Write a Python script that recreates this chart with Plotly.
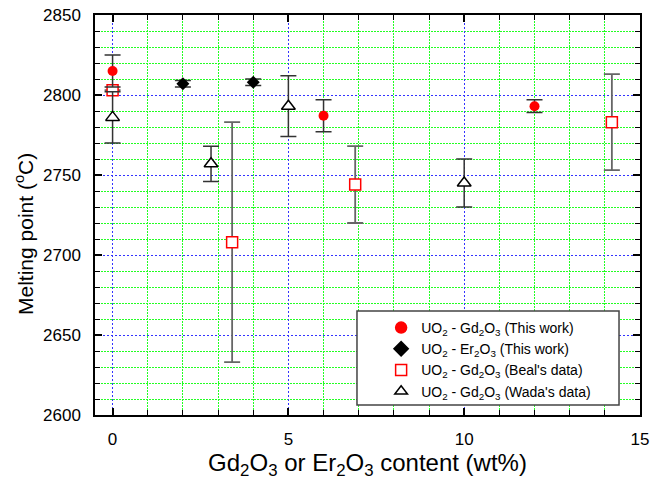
import plotly.graph_objects as go

# --- data ---
gd_this_x = [0, 6, 12]
gd_this_y = [2815, 2787, 2793]
gd_this_err = [10, 10, 4]

er_this_x = [2, 4]
er_this_y = [2807, 2808]
er_this_err = [2, 2]

beal_x = [0, 3.4, 6.9, 14.2]
beal_y = [2803, 2708, 2744, 2783]
beal_err = [0, 75, 24, 30]

wada_x = [0, 2.8, 5, 10]
wada_y = [2786, 2757, 2793, 2745]
wada_err = [16, 11, 19, 15]

FONT = "Arial, Liberation Sans, sans-serif"
ERRC = "#333333"
GREEN = "#22ff22"
BLUE = "#3333ff"
DOT_MINOR = "2px,1px"
DOT_MAJOR = "2px,2px"

fig = go.Figure()

fig.add_trace(go.Scatter(
    x=beal_x, y=beal_y, mode="markers",
    marker=dict(symbol="square", size=11, color="white", line=dict(color="red", width=1.5)),
    error_y=dict(type="data", array=beal_err, color="#666666", thickness=1.8, width=8),
    showlegend=False,
))
fig.add_trace(go.Scatter(
    x=wada_x, y=wada_y, mode="markers",
    marker=dict(symbol="triangle-up", size=12, color="white", line=dict(color="black", width=1.5)),
    error_y=dict(type="data", array=wada_err, color=ERRC, thickness=1.5, width=8),
    showlegend=False,
))
fig.add_trace(go.Scatter(
    x=gd_this_x, y=gd_this_y, mode="markers",
    marker=dict(symbol="circle", size=10, color="red", line=dict(width=0)),
    error_y=dict(type="data", array=gd_this_err, color=ERRC, thickness=1.5, width=8),
    showlegend=False,
))
fig.add_trace(go.Scatter(
    x=er_this_x, y=er_this_y, mode="markers",
    marker=dict(symbol="diamond", size=10, color="black", line=dict(width=0)),
    error_y=dict(type="data", array=er_this_err, color=ERRC, thickness=1.5, width=8),
    showlegend=False,
))

legend_names = [
    "UO<sub>2</sub> - Gd<sub>2</sub>O<sub>3</sub> (This work)",
    "UO<sub>2</sub> - Er<sub>2</sub>O<sub>3</sub> (This work)",
    "UO<sub>2</sub> - Gd<sub>2</sub>O<sub>3</sub> (Beal's data)",
    "UO<sub>2</sub> - Gd<sub>2</sub>O<sub>3</sub> (Wada's data)",
]
legend_styles = [
    ("circle", "red", "red", 11),
    ("diamond", "black", "black", 11),
    ("square-open", "red", "red", 11),
    ("triangle-up-open", "black", "black", 11),
]
for nm, (sym, col, lc, sz) in zip(legend_names, legend_styles):
    fig.add_trace(go.Scatter(
        x=[None], y=[None], mode="markers", name=nm,
        marker=dict(symbol=sym, size=sz, color=col, line=dict(color=lc, width=1.5)),
    ))

fig.update_layout(
    width=650, height=487,
    margin=dict(l=95, r=10, t=15, b=72),
    paper_bgcolor="white", plot_bgcolor="white",
    font=dict(family=FONT, size=17, color="black"),
    legend=dict(
        x=0.525, y=0.2575, xanchor="left", yanchor="top",
        bgcolor="rgba(0,0,0,0)", borderwidth=0,
        font=dict(family=FONT, size=14), tracegroupgap=0,
    ),
    shapes=[dict(type="rect", xref="paper", yref="paper",
                 x0=0.4807, x1=0.9615, y0=0.025, y1=0.26,
                 fillcolor="white", line=dict(color="#444444", width=1.5),
                 layer="above")],
    annotations=[dict(text="Melting point (<sup>o</sup>C)", textangle=-90,
                      xref="paper", yref="paper", x=-0.1303, y=0.4525,
                      xanchor="center", yanchor="middle", showarrow=False,
                      font=dict(family=FONT, size=21, color="black"))],
)

fig.update_xaxes(
    range=[-0.5, 15], tick0=0, dtick=5, automargin=False,
    showline=True, linecolor="black", linewidth=1.5, mirror="allticks",
    ticks="inside", ticklen=7, tickwidth=1.5, tickcolor="black",
    showgrid=True, gridcolor=BLUE, griddash=DOT_MAJOR, gridwidth=1,
    minor=dict(dtick=1, tick0=0, ticks="inside", ticklen=5, tickwidth=1.2, tickcolor="black",
               showgrid=True, gridcolor=GREEN, griddash=DOT_MINOR, gridwidth=1),
    zeroline=False, ticklabelstandoff=8,
    title=dict(text="Gd<sub>2</sub>O<sub>3</sub> or Er<sub>2</sub>O<sub>3</sub> content (wt%)",
               font=dict(size=24), standoff=6),
    tickfont=dict(size=17),
)
fig.update_yaxes(
    range=[2600, 2850], tick0=2600, dtick=50, automargin=False,
    showline=True, linecolor="black", linewidth=1.5, mirror="allticks",
    ticks="inside", ticklen=7, tickwidth=1.5, tickcolor="black",
    showgrid=True, gridcolor=BLUE, griddash=DOT_MAJOR, gridwidth=1,
    minor=dict(dtick=10, tick0=2600, ticks="inside", ticklen=5, tickwidth=1.2, tickcolor="black",
               showgrid=True, gridcolor=GREEN, griddash=DOT_MINOR, gridwidth=1),
    zeroline=False, ticklabelstandoff=9,
    tickfont=dict(size=17),
)

fig.write_html("out.html", config={"displayModeBar": False},
               post_script="document.body.style.margin='0';")
